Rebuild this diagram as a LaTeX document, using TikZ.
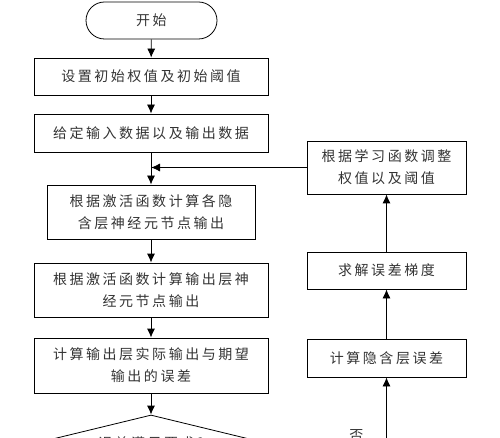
\documentclass[tikz,border=0pt]{standalone}
\usepackage{fontspec}
\newfontfamily\cjkfont[LetterSpace=18]{Noto Sans CJK SC}
\usetikzlibrary{arrows.meta,shapes.geometric}

\tikzset{
    procbox/.style={draw=black, line width=0.8pt, align=center, inner sep=0pt,
        font=\cjkfont\fontsize{14}{22}\selectfont, text=black!80},
    flowarrow/.style={-{Latex[length=9pt,width=8pt]}, line width=0.8pt}
}

\begin{document}
\begin{tikzpicture}[x=1pt, y=-1pt]
    \useasboundingbox (0,0) rectangle (500,438);

    \begin{scope}
        \node[procbox, rounded corners=18.5pt, minimum width=131pt, minimum height=37pt] (start) at (151.5,20.5) {开始};
        \node[procbox, minimum width=234pt, minimum height=37pt] (init) at (151,76.5) {设置初始权值及初始阈值};
        \node[procbox, minimum width=234pt, minimum height=38pt] (data) at (151,133) {给定输入数据以及输出数据};
        \node[procbox, minimum width=208pt, minimum height=54pt] (hidden) at (151,212) {根据激活函数计算各隐\\含层神经元节点输出};
        \node[procbox, minimum width=234pt, minimum height=54pt] (output) at (151,290) {根据激活函数计算输出层神\\经元节点输出};
        \node[procbox, minimum width=234pt, minimum height=55pt] (error) at (151,365.5) {计算输出层实际输出与期望\\输出的误差};
        \node[procbox, shape=diamond, aspect=4.1, minimum width=230pt, minimum height=56pt] (check) at (151,443) {误差满足要求?};
    \end{scope}

    \begin{scope}
        \node[procbox, minimum width=159pt, minimum height=53pt] (adjust) at (386.5,167.5) {根据学习函数调整\\权值以及阈值};
        \node[procbox, minimum width=159pt, minimum height=37pt] (grad) at (386.5,270.5) {求解误差梯度};
        \node[procbox, minimum width=159pt, minimum height=38pt] (hiderr) at (386.5,358) {计算隐含层误差};
    \end{scope}

    \draw[flowarrow] (start) -- (init);
    \draw[flowarrow] (init) -- (data);
    \draw[flowarrow] (data) -- (hidden);
    \draw[flowarrow] (hidden) -- (output);
    \draw[flowarrow] (output) -- (error);
    \draw[flowarrow] (error) -- (check);

    \coordinate (nocorner) at (hiderr.south |- check.east);
    \draw[flowarrow] (check.east) -- node[procbox, draw=none, above=1pt, pos=0.75] (no) {否} (nocorner) -- (hiderr.south);
    \draw[flowarrow] (hiderr) -- (grad);
    \draw[flowarrow] (grad) -- (adjust);
    \draw[flowarrow] (adjust.west) -- (adjust.west -| data.south);
\end{tikzpicture}
\end{document}
